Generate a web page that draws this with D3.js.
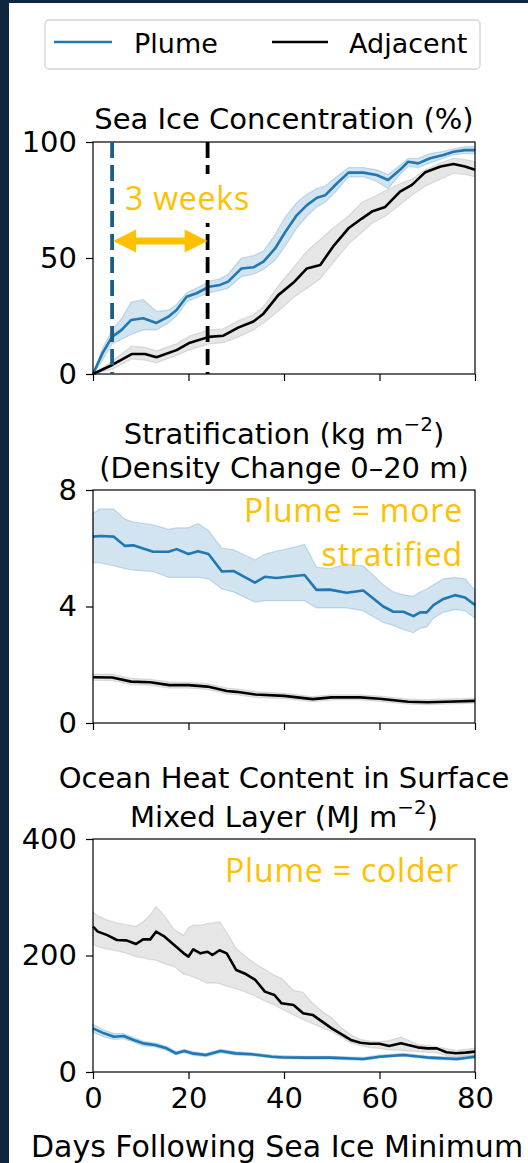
<!DOCTYPE html>
<html>
<head>
<meta charset="utf-8">
<script src="https://cdn.jsdelivr.net/npm/d3@7"></script>
<style>
  body { margin: 0; background: #fff; }
  svg { display: block; }
</style>
</head>
<body>
<svg id="chart" width="528" height="1163"></svg>
<script>
// rows are [day, mean, lower, upper]
const sicPlume = [
  [0,0,0,0],[2,9,6,11],[4,16,13,19],[6,19,15,24],[8,23.3,17,31],[10.5,24,19,32],
  [13.3,22,19,27],[15.8,24.7,22,27.5],[17.5,27.6,25,30],[19.6,33.3,31,35],[21.7,34.8,33,37],
  [24.3,37.6,35,40],[26.6,38.4,36,41],[28.3,39.8,37,43],[31.1,45.5,42,50],[33.6,46,43,51],
  [35.7,48.4,45,53],[38.1,54,49,60],[40.2,61,55,67.5],[42.7,68.5,63,74],[44.8,72.8,68,77.5],
  [46.9,76,72,80],[48.6,77,74,81],[51,82,79,85],[53.5,86.8,85,89],[56.6,86.8,85,89],
  [59.4,85.8,83,88],[61.8,83.6,80,86],[64.3,88,86,90],[66,91.5,89.5,93],[68.1,90.8,89,93],
  [70.6,93,91,95],[73.4,94.4,93,96],[75.5,95.8,94.5,97],[77.9,96.5,95,98],[80,96.5,95,98]
];
const sicAdjacent = [
  [0,0,0,0],[4,3.9,2,5.5],[8.1,8.6,6.5,12],[10.9,8.6,6,11.5],[13.3,7.2,4.8,10],
  [17.5,10.3,8,13],[20.3,13.5,10.5,16.5],[24.3,16,13,19],[27.3,16.5,13.5,19.5],[30.4,20,16,23],
  [33.6,22.6,19,25.5],[35.7,26,22,29],[38.8,34,27,38],[42,39.4,33,46],[44.8,45.5,37,53],
  [47.6,47,41,58],[50.3,55,48,63],[53.5,62.8,56,68],[56.3,67,61,74],[58.4,70,65,76],
  [61.2,72,68,79],[64.3,78.6,73,82],[66.8,81.5,77,84],[69.6,87,81,88],[72.8,89.4,84,91],
  [75.5,90.5,86.5,93],[77.9,89.4,86,92.5],[80,88,85,91.5]
];
const stratPlume = [
  [0,6.4,5.5,7.2],[1.5,6.42,5.5,7.35],[4.3,6.4,5.4,7.35],[6.7,6.08,5.3,7.0],[8.4,6.1,5.25,6.9],
  [12.6,5.88,5.2,6.8],[15.8,5.88,5.0,6.65],[17.5,5.97,5.0,6.7],[20,5.8,5.0,6.7],[22,5.9,5.0,6.85],
  [24.2,5.8,4.95,6.6],[27,5.2,4.6,6.0],[29.4,5.22,4.5,5.95],[33.9,4.82,4.15,5.6],[36,5.02,4.2,5.8],
  [38.4,4.98,4.2,5.9],[41.2,5.03,4.2,6.0],[44.3,5.08,4.2,6.13],[46.8,4.57,3.95,5.35],
  [49.6,4.58,3.95,5.3],[53.1,4.47,3.95,5.45],[56.6,4.55,3.85,5.4],[60.8,4.0,3.45,4.75],
  [62.9,3.82,3.35,4.5],[65,3.82,3.2,4.4],[67.1,3.67,3.1,4.35],[68.5,3.8,3.25,4.5],
  [69.9,3.8,3.3,4.6],[71.3,4.05,3.6,4.75],[73.4,4.26,3.8,4.95],[75.8,4.39,3.9,5.0],
  [77.9,4.31,3.85,4.95],[80,4.05,3.6,4.55]
];
const stratAdjacent = [
  [0,1.57,1.46,1.68],[4,1.56,1.45,1.67],[8,1.42,1.32,1.53],[12,1.4,1.3,1.5],[16,1.3,1.2,1.41],
  [20,1.3,1.2,1.4],[24,1.25,1.15,1.35],[28,1.1,1.0,1.2],[30,1.07,0.97,1.17],[34,0.98,0.88,1.08],
  [40,0.93,0.84,1.02],[46,0.82,0.73,0.91],[50,0.88,0.79,0.97],[56,0.88,0.79,0.97],
  [60,0.83,0.74,0.92],[66,0.73,0.65,0.82],[70,0.71,0.63,0.8],[74,0.73,0.65,0.82],[80,0.76,0.68,0.85]
];
const ohcPlume = [
  [0,75,68,82],[2.3,66.4,60,72],[4.4,60.6,56,66],[6.4,61.8,57,66],[8.5,55,51,59],
  [10.5,49.2,45,53],[13,46.3,43,50],[15.4,40.6,37,44],[17.4,32,29,35],[19.1,36,33,39],
  [20.8,32,29,35],[23.6,29.2,26,32],[26.7,36,33,39],[29.8,32,29,35],[33.3,30.4,28,33],
  [37.5,26.3,24,29],[40,25,23,28],[44.8,24.6,22,27],[49.6,24.6,22,27],[56.6,22.3,20,25],
  [60,26.3,24,29],[65,29.2,27,32],[70.6,24.6,22,27],[76.2,22.3,20,25],[80,26.3,24,29]
];
const ohcAdjacent = [
  [0,249.5,219,275],[1,241,215,268],[3,235,211,261],[5,226.6,208,256],[7,226,204,253],
  [9,219.7,198,250],[10.5,227.7,196,258],[12,227.7,193,270],[13.2,240.9,192,284],[15,232.3,186,268],
  [17,218,181,244],[19,203.7,168,235],[20,198,166,248],[21,210.6,163,252],[22.5,203.7,158,252],
  [24,206.5,152,255],[25,200.8,153,256],[26.5,209,152,258],[28,203.7,147,240],[30,175,143,212],
  [32,168.2,137,198],[34,158,130,186],[36,138,122,176],[38,132.2,115,166],[39.5,117.9,108,161],
  [42,115,98,140],[44,100.7,90,137],[46,98,83,118],[48,86.4,76,104],[50,75,69,93],
  [52,65.2,60,76],[54,55,50,64],[56,50.3,45,56],[58,48.4,42,53],[60,48.4,40.6,52],
  [62,44.6,38,54],[64.5,49.2,37,60],[66,46.3,36,55],[68,42.3,35,47],[70,40.6,34,46],
  [72,40.6,33,43],[74,33.8,28,40],[76,32.1,26,37],[78,33.3,28,39],[80,35,29,41]
];

const xTicks = [0, 20, 40, 60, 80];
const sicTicks = [0, 50, 100];
const stratTicks = [0, 4, 8];
const ohcTicks = [0, 200, 400];

// dashed markers (days) and arrow level (%)
const minDayPlume = 4;
const minDayAdjacent = 24;
const arrowLevel = 57.3;

const blue = "#1f77b4";
const orange = "#ffc000";
const mplFont = "DejaVu Sans, sans-serif";
const noteFont = "'Open Sans', sans-serif";
const fs = 29;

const svg = d3.select("#chart");

// dark frame at left / top
svg.append("rect").attr("x", 0).attr("y", 0).attr("width", 528).attr("height", 1163).attr("fill", "#0f2641");
svg.append("rect").attr("x", 9).attr("y", 3).attr("width", 519).attr("height", 1160).attr("fill", "#fff");

const x = d3.scaleLinear().domain([0, 80]).range([93, 475]);

function drawPanel(top, bottom, ymax, ticks, plume, adjacent, showX) {
  const y = d3.scaleLinear().domain([0, ymax]).range([bottom, top]);
  const g = svg.append("g");

  const area = d3.area().x(d => x(d[0])).y0(d => y(d[2])).y1(d => y(d[3]));
  const line = d3.line().x(d => x(d[0])).y(d => y(d[1]));

  g.append("path").datum(plume).attr("d", area)
    .attr("fill", "rgba(31,119,180,0.2)").attr("stroke", "rgba(31,119,180,0.22)").attr("stroke-width", 1.2);
  g.append("path").datum(plume).attr("d", line)
    .attr("fill", "none").attr("stroke", blue).attr("stroke-width", 2.6).attr("stroke-linejoin", "round");
  g.append("path").datum(adjacent).attr("d", area)
    .attr("fill", "rgba(128,128,128,0.2)").attr("stroke", "rgba(128,128,128,0.22)").attr("stroke-width", 1.2);
  g.append("path").datum(adjacent).attr("d", line)
    .attr("fill", "none").attr("stroke", "#000").attr("stroke-width", 2.6).attr("stroke-linejoin", "round");

  // frame
  g.append("rect").attr("x", x(0)).attr("y", top).attr("width", x(80) - x(0)).attr("height", bottom - top)
    .attr("fill", "none").attr("stroke", "#000").attr("stroke-width", 1.2);

  const ya = g.append("g").attr("transform", `translate(${x(0)},0)`)
    .call(d3.axisLeft(y).tickValues(ticks).tickSize(7).tickPadding(9));
  ya.select(".domain").remove();
  ya.selectAll("line").attr("stroke-width", 1.2);
  ya.selectAll("text").attr("font-family", mplFont).attr("font-size", fs).attr("fill", "#000");

  const xa = g.append("g").attr("transform", `translate(0,${bottom})`)
    .call(d3.axisBottom(x).tickValues(xTicks).tickSize(7).tickPadding(8).tickFormat(showX ? d3.format("d") : ""));
  xa.select(".domain").remove();
  xa.selectAll("line").attr("stroke-width", 1.2);
  xa.selectAll("text").attr("font-family", mplFont).attr("font-size", fs).attr("fill", "#000");
  return y;
}

function title(lines) {
  lines.forEach(l => {
    const t = svg.append("text").attr("x", 284).attr("y", l.y).attr("text-anchor", "middle")
      .attr("font-family", mplFont).attr("font-size", fs).attr("fill", "#000");
    t.append("tspan").text(l.text);
    if (l.sup) {
      t.append("tspan").attr("font-size", 20).attr("dy", -13).text(l.sup);
      t.append("tspan").attr("dy", 13).text(l.after);
    }
  });
}

function note(xp, yp, text, anchor) {
  svg.append("text").attr("x", xp).attr("y", yp).attr("text-anchor", anchor)
    .attr("font-family", noteFont).attr("font-size", 32).attr("letter-spacing", 0.8)
    .attr("fill", orange).text(text);
}

// panel 1: sea ice concentration
const y1 = drawPanel(142, 374, 100, sicTicks, sicPlume, sicAdjacent, false);

svg.append("line").attr("x1", x(minDayAdjacent)).attr("x2", x(minDayAdjacent))
  .attr("y1", y1(100)).attr("y2", y1(0))
  .attr("stroke", "#000").attr("stroke-width", 3.8).attr("stroke-dasharray", "16,7");
svg.append("rect").attr("x", 118).attr("y", 174).attr("width", 140).attr("height", 49).attr("fill", "#fff");
note(125, 210, "3 weeks", "start");
svg.append("line").attr("x1", x(minDayPlume)).attr("x2", x(minDayPlume))
  .attr("y1", y1(100)).attr("y2", y1(0))
  .attr("stroke", "#1b5f88").attr("stroke-width", 3.8).attr("stroke-dasharray", "16,7");

// double-headed arrow
{
  const xa = x(minDayPlume) + 1, xb = x(minDayAdjacent), ya = y1(arrowLevel);
  const hl = 23, hw = 11.5, sw = 3.5;
  const pts = [
    [xa, ya], [xa + hl, ya - hw], [xa + hl, ya - sw], [xb - hl, ya - sw], [xb - hl, ya - hw],
    [xb, ya], [xb - hl, ya + hw], [xb - hl, ya + sw], [xa + hl, ya + sw], [xa + hl, ya + hw]
  ];
  svg.append("path").attr("d", d3.line()(pts) + "Z").attr("fill", orange);
}

title([{ text: "Sea Ice Concentration (%)", y: 129 }]);

// panel 2: stratification
drawPanel(490, 723, 8, stratTicks, stratPlume, stratAdjacent, false);
title([
  { text: "Stratification (kg m", sup: "\u22122", after: ")", y: 444 },
  { text: "(Density Change 0\u201320 m)", y: 478 }
]);
note(463, 522, "Plume = more", "end");
note(463, 566, "stratified", "end");

// panel 3: ocean heat content
drawPanel(839, 1072, 400, ohcTicks, ohcPlume, ohcAdjacent, true);
title([
  { text: "Ocean Heat Content in Surface", y: 788 },
  { text: "Mixed Layer (MJ m", sup: "\u22122", after: ")", y: 827 }
]);
note(459, 882, "Plume = colder", "end");

svg.append("text").attr("x", 277).attr("y", 1157).attr("text-anchor", "middle")
  .attr("font-family", mplFont).attr("font-size", 30).attr("fill", "#000")
  .text("Days Following Sea Ice Minimum");

// legend
const leg = svg.append("g");
leg.append("rect").attr("x", 45).attr("y", 20).attr("width", 435).attr("height", 49).attr("rx", 4)
  .attr("fill", "#fff").attr("stroke", "#d4d4d4").attr("stroke-width", 1.3);
leg.append("line").attr("x1", 54).attr("x2", 112).attr("y1", 42).attr("y2", 42).attr("stroke", blue).attr("stroke-width", 2.6);
leg.append("line").attr("x1", 272).attr("x2", 328).attr("y1", 42).attr("y2", 42).attr("stroke", "#000").attr("stroke-width", 2.6);
leg.append("text").attr("x", 134).attr("y", 53).attr("font-family", mplFont).attr("font-size", 27).text("Plume");
leg.append("text").attr("x", 349).attr("y", 53).attr("font-family", mplFont).attr("font-size", 27).text("Adjacent");
</script>
</body>
</html>
